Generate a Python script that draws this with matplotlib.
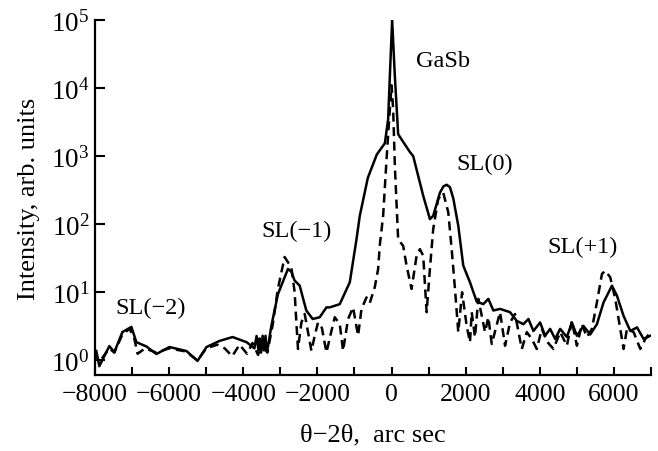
import numpy as np
import matplotlib
matplotlib.use("Agg")
from matplotlib import pyplot as plt
from matplotlib.ticker import MultipleLocator, FixedLocator

solid_x = [-7965, -7884, -7614, -7478, -7262, -7019, -6884, -6614, -6343, -5992,
           -5532, -5235, -4992, -4641, -4289, -3911, -3700, -3641, -3590, -3559,
           -3520, -3478, -3440, -3400, -3370, -3335, -3243, -3065, -2795, -2700,
           -2620, -2478, -2300, -2127, -1938, -1757, -1667, -1397, -1216, -1127,
           -946, -857, -640, -397, -180, -92, -46, 16, 89, 178, 495, 584, 854,
           1035, 1124, 1305, 1400, 1486, 1575, 1665, 1800, 1935, 2116, 2297, 2476, 2611,
           2746, 2927, 3197, 3378, 3557, 3692, 3827, 4008, 4143, 4278, 4414,
           4549, 4730, 4865, 5000, 5178, 5359, 5540, 5719, 5946, 6081, 6259,
           6441, 6622, 6800, 6981]
solid_y = [1.37, 0.82, 1.62, 1.32, 2.6, 3.1, 1.85, 1.6, 1.24, 1.57,
           1.37, 0.98, 1.57, 1.93, 2.2, 1.85, 1.5, 2.28, 1.4, 2.1,
           1.3, 2.3, 1.4, 2.3, 1.35, 1.57, 3.2, 9.4, 22, 20,
           15, 12.5, 5.4, 4.05, 4.3, 6.0, 6.0, 6.7, 11, 14,
           60, 133, 480, 1060, 1550, 3500, 15000, 100000, 15000, 2100, 1150, 1000, 262,
           119, 133, 290, 360, 380, 350, 240, 95, 24.6, 14, 7.3, 6.7, 8,
           5.4, 5.7, 5.1, 3.8, 3.4, 4.05, 2.7, 3.6, 2.3, 2.9, 2.06,
           2.9, 2.2, 3.6, 2.3, 3.2, 2.4, 3.4, 7.1, 12.5, 8.9, 4.5,
           2.7, 3.05, 2.06, 2.3]

dash_x = [-8000, -7884, -7614, -7478, -7262, -7070, -6950, -6850, -6650, -6350,
          -6000, -5550, -5235, -5000, -4700, -4500, -4300, -4100, -3900, -3750,
          -3600, -3480, -3350, -3200, -3070, -2884, -2703, -2614, -2568, -2524,
          -2432, -2343, -2254, -2162, -2073, -1984, -1880, -1757, -1622, -1532,
          -1397, -1308, -1173, -1038, -903, -811, -676, -586, -451, -362, -316,
          -227, -135, -46, 0, 43, 89, 178, 314, 405, 540, 676, 765, 854, 946,
          1035, 1124, 1259, 1395, 1530, 1622, 1711, 1800, 1903, 2027, 2116,
          2162, 2251, 2341, 2522, 2611, 2703, 2927, 3062, 3197, 3332, 3514,
          3649, 3784, 3919, 4054, 4189, 4368, 4549, 4730, 4865, 5000, 5135,
          5270, 5405, 5540, 5676, 5765, 5900, 6035, 6170, 6259, 6351, 6530,
          6711, 6846, 6981]
dash_y = [1.3, 0.95, 1.5, 1.3, 2.4, 2.9, 2.2, 1.25, 1.5, 1.3,
          1.5, 1.35, 1.0, 1.5, 1.7, 1.5, 1.15, 1.7, 1.25, 1.8,
          1.2, 2.0, 1.3, 3.5, 11, 33, 23, 10, 3.6, 1.47,
          3.6, 4.8, 2.6, 1.38, 2.3, 3.6, 3.0, 1.31, 2.7, 4.3,
          3.4, 1.38, 4.05, 6.0, 2.3, 5.7, 8.4, 7.0, 12, 22, 50,
          133, 900, 4900, 11000, 4900, 720, 60, 48, 24.6, 11.2, 34.5, 43, 34.5, 5.1,
          22, 85, 235, 290, 150, 43, 11.2, 2.6, 10, 3.2, 1.84,
          5.1, 2.2, 8, 2.6, 4.3, 1.74, 5.1, 1.64, 3.6, 4.8, 1.47,
          2.6, 2.06, 1.47, 2.9, 1.9, 1.47, 2.6, 1.64, 3.8, 1.64, 3.4,
          2.2, 2.9, 7.1, 18.6, 20.7, 16.6, 8, 2.9, 1.47, 2.9, 2.6,
          1.47, 2.06, 2.6]

peak_labels = ["SL(\u22122)", "SL(\u22121)", "GaSb", "SL(0)", "SL(+1)"]
label_x = [-6490, -2570, 1390, 2520, 5160]
label_y = [6.0, 80, 25000, 780, 47]

plt.rcParams['font.family'] = ['Liberation Serif', 'DejaVu Serif']
plt.rcParams['mathtext.fontset'] = 'custom'
plt.rcParams['mathtext.rm'] = 'Liberation Serif'
plt.rcParams['mathtext.it'] = 'Liberation Serif:italic'

fig = plt.figure(figsize=(6.58, 4.52), dpi=100)
ax = fig.add_axes([0.1444, 0.168, 0.845, 0.7855])

ax.plot(solid_x, solid_y, color="k", lw=1.8)
ax.plot(dash_x, dash_y, color="k", lw=1.8, dashes=(3.6, 2.2))

ax.set_yscale("log")
ax.set_xlim(-8000, 7000)
ax.set_ylim(0.608, 1e5)

ax.xaxis.set_major_locator(FixedLocator(np.arange(-8000, 7000, 2000)))
ax.xaxis.set_minor_locator(MultipleLocator(1000))
ax.yaxis.set_major_locator(FixedLocator([1, 10, 100, 1000, 1e4, 1e5]))
ax.yaxis.set_minor_locator(FixedLocator([]))

for side in ["top", "right"]:
    ax.spines[side].set_visible(False)
for side in ["left", "bottom"]:
    ax.spines[side].set_linewidth(1.6)

ax.tick_params(axis="both", which="both", direction="in", width=1.5)
ax.tick_params(axis="y", which="major", length=7, labelsize=19.5, pad=4)
ax.tick_params(axis="x", which="both", length=6, labelsize=18.5, pad=6)

ax.set_xlabel("\u03b8\u22122\u03b8,  arc sec", fontsize=19, labelpad=13)
ax.set_ylabel("Intensity, arb. units", fontsize=19, labelpad=8)

for txt, lx, ly in zip(peak_labels, label_x, label_y):
    ax.text(lx, ly, txt, fontsize=17.5, ha="center", va="center")

fig.savefig("out.png", dpi=100)
